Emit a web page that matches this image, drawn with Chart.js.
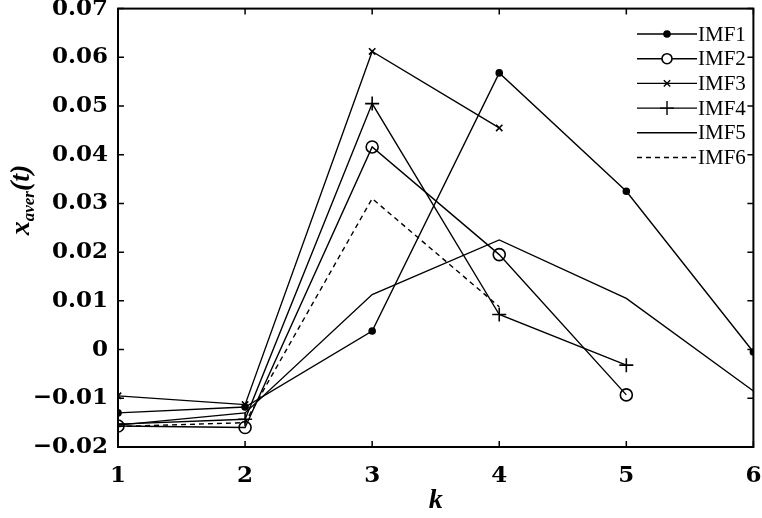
<!DOCTYPE html>
<html>
<head>
<meta charset="utf-8">
<script src="https://cdn.jsdelivr.net/npm/chart.js@4.4.1/dist/chart.umd.min.js"></script>
<style>
  html, body { margin: 0; padding: 0; background: #fff; }
  #wrap { width: 762px; height: 518px; }
</style>
</head>
<body>
<div id="wrap"><canvas id="imfChart"></canvas></div>
<script>
const kValues = [1, 2, 3, 4, 5, 6];
const imf1 = [-0.013, -0.0118, 0.0038, 0.0568, 0.0325, -0.0005];
const imf2 = [-0.0157, -0.016, 0.0416, 0.0195, -0.0093, null];
const imf3 = [-0.0095, -0.0113, 0.0612, 0.0455, null, null];
const imf4 = [-0.0153, -0.0143, 0.0505, 0.0072, -0.0032, null];
const imf5 = [-0.0155, -0.013, 0.0113, 0.0225, 0.0105, -0.0085];
const imf6 = [-0.0158, -0.015, 0.031, 0.0088, null, null];
const seriesNames = ['IMF1', 'IMF2', 'IMF3', 'IMF4', 'IMF5', 'IMF6'];

const serif = '"Liberation Serif", "DejaVu Serif", serif';
const tickFont = '"DejaVu Serif", "Liberation Serif", serif';

function toPoints(vals) {
    const pts = [];
    vals.forEach(function (v, i) {
        if (v !== null) pts.push({ x: kValues[i], y: v });
    });
    return pts;
}

function makeSet(name, vals, style, radius, dash, fill) {
    return {
        label: name,
        data: toPoints(vals),
        borderColor: '#000',
        backgroundColor: fill ? '#000' : '#fff',
        borderWidth: 1.4,
        borderDash: dash || [],
        pointStyle: style,
        pointRadius: radius,
        pointBorderColor: '#000',
        pointBorderWidth: 1.6,
        pointBackgroundColor: fill ? '#000' : 'rgba(0,0,0,0)',
        tension: 0,
        fill: false
    };
}

const datasets = [
    makeSet('IMF1', imf1, 'circle', 3, null, true),
    makeSet('IMF2', imf2, 'circle', 6, null, false),
    makeSet('IMF3', imf3, 'crossRot', 4.5, null, false),
    makeSet('IMF4', imf4, 'cross', 7, null, false),
    makeSet('IMF5', imf5, false, 0, null, false),
    makeSet('IMF6', imf6, false, 0, [5, 4], false)
];

// frame + inward ticks on all four sides
const framePlugin = {
    id: 'frame',
    afterDatasetsDraw(chart) {
        const c = chart.ctx, a = chart.chartArea;
        const xs = chart.scales.x, ys = chart.scales.y;
        c.save();
        c.strokeStyle = '#000';
        c.lineWidth = 2;
        c.strokeRect(a.left, a.top, a.right - a.left, a.bottom - a.top);
        c.lineWidth = 1.5;
        c.beginPath();
        xs.ticks.forEach(function (t) {
            const px = xs.getPixelForValue(t.value);
            c.moveTo(px, a.bottom); c.lineTo(px, a.bottom - 6);
            c.moveTo(px, a.top); c.lineTo(px, a.top + 6);
        });
        ys.ticks.forEach(function (t) {
            const py = ys.getPixelForValue(t.value);
            c.moveTo(a.left, py); c.lineTo(a.left + 6, py);
            c.moveTo(a.right, py); c.lineTo(a.right - 6, py);
        });
        c.stroke();
        c.restore();
    }
};

// legend: line sample with marker in the middle
const legendPlugin = {
    id: 'imfLegend',
    afterDraw(chart) {
        const c = chart.ctx;
        c.save();
        chart.data.datasets.forEach(function (ds, i) {
            const y = 34 + i * 24.7;
            c.strokeStyle = '#000';
            c.lineWidth = 1.4;
            c.setLineDash(ds.borderDash);
            c.beginPath();
            c.moveTo(637, y); c.lineTo(697, y);
            c.stroke();
            c.setLineDash([]);
            if (ds.pointStyle === 'circle') {
                c.fillStyle = ds.pointBackgroundColor === '#000' ? '#000' : '#fff';
                c.lineWidth = ds.pointBorderWidth;
                c.beginPath();
                c.arc(667, y, ds.pointRadius === 6 ? 5 : 3, 0, Math.PI * 2);
                c.fill(); c.stroke();
            } else if (ds.pointStyle) {
                Chart.helpers.drawPoint(c, {
                    pointStyle: ds.pointStyle,
                    radius: ds.pointRadius,
                    borderWidth: ds.pointBorderWidth
                }, 667, y);
            }
            c.fillStyle = '#000';
            c.font = '21px ' + serif;
            c.textAlign = 'left';
            c.textBaseline = 'middle';
            c.fillText(seriesNames[i], 698, y + 1);
        });
        c.restore();
    }
};

// y title with subscript: x_aver(t)
const yTitlePlugin = {
    id: 'yTitle',
    afterDraw(chart) {
        const c = chart.ctx;
        c.save();
        c.translate(21, 200);
        c.rotate(-Math.PI / 2);
        c.fillStyle = '#000';
        c.textBaseline = 'alphabetic';
        const big = 'italic bold 28px ' + serif;
        const small = 'italic bold 17px ' + serif;
        c.font = big; const w1 = c.measureText('x').width;
        c.font = small; const w2 = c.measureText('aver').width;
        c.font = big; const w3 = c.measureText('(t)').width;
        let x = -(w1 + w2 + w3) / 2;
        c.font = big; c.fillText('x', x, 8); x += w1;
        c.font = small; c.fillText('aver', x, 13); x += w2;
        c.font = big; c.fillText('(t)', x, 8);
        c.restore();
    }
};

new Chart(document.getElementById('imfChart'), {
    type: 'line',
    data: { datasets: datasets },
    options: {
        responsive: true,
        maintainAspectRatio: false,
        animation: false,
        layout: { padding: { left: 0, right: 6, top: 8, bottom: 0 } },
        scales: {
            x: {
                type: 'linear',
                min: 1,
                max: 6,
                afterFit: function (s) {
                    s.height = 71;
                    s.paddingLeft = 0;
                    s.paddingRight = 0;
                },
                ticks: {
                    stepSize: 1,
                    padding: 15,
                    color: '#000',
                    font: { family: tickFont, size: 23, weight: 'bold' }
                },
                grid: { display: false, drawTicks: false },
                border: { display: false },
                title: {
                    display: true,
                    text: 'k',
                    color: '#000',
                    padding: { top: 0, bottom: 0 },
                    font: { family: serif, size: 28, weight: 'bold', style: 'italic' }
                }
            },
            y: {
                min: -0.02,
                max: 0.07,
                afterFit: function (s) {
                    s.width = 118;
                    s.paddingTop = 0;
                    s.paddingBottom = 0;
                },
                ticks: {
                    stepSize: 0.01,
                    padding: 10,
                    color: '#000',
                    font: { family: tickFont, size: 23, weight: 'bold' },
                    callback: function (v) {
                        const r = Math.round(v * 100) / 100;
                        if (r === 0) return '0';
                        return (r < 0 ? '\u2212' : '') + Math.abs(r).toFixed(2);
                    }
                },
                grid: { display: false, drawTicks: false },
                border: { display: false }
            }
        },
        plugins: {
            legend: { display: false },
            tooltip: { enabled: false }
        }
    },
    plugins: [framePlugin, legendPlugin, yTitlePlugin]
});
</script>
</body>
</html>
